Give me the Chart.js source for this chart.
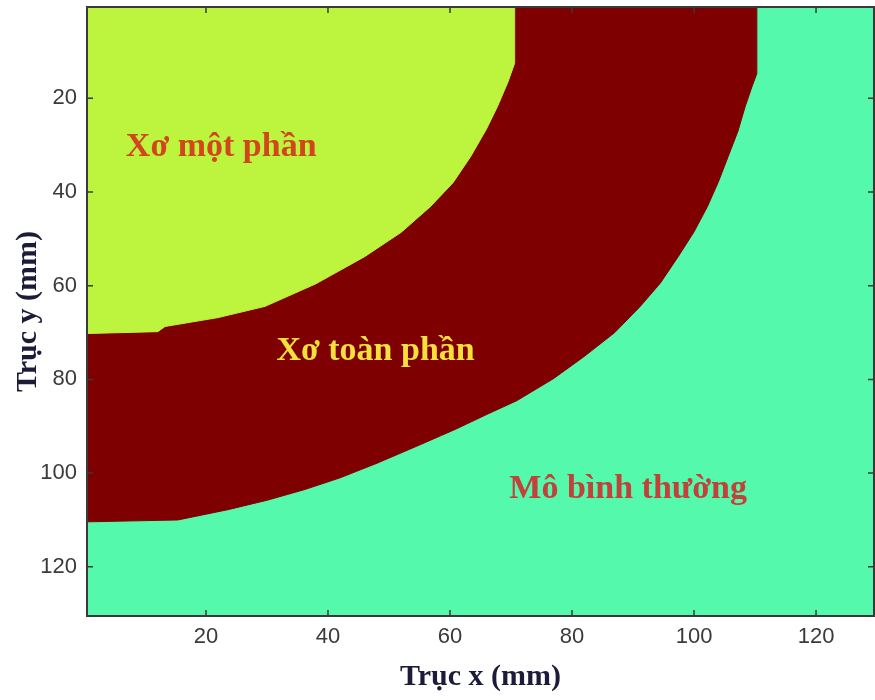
<!DOCTYPE html>
<html>
<head>
<meta charset="utf-8">
<script src="https://cdn.jsdelivr.net/npm/chart.js@4.4.0/dist/chart.umd.min.js"></script>
<style>
  html, body { margin: 0; padding: 0; background: #fff; }
</style>
</head>
<body>
<canvas id="chart" width="875" height="700"></canvas>
<script>
/* =========================================
   DATA (mm)
   ========================================= */
const xRange = [0.5, 129.5];
const yRange = [0.5, 130.5];
const xTicks = [20, 40, 60, 80, 100, 120];
const yTicks = [20, 40, 60, 80, 100, 120];

// edge between "Xơ một phần" and "Xơ toàn phần"
const innerX = [0.5, 12.1, 13.3, 22.0, 29.7, 38.0, 46.0, 52.0, 56.8, 60.5, 63.4, 66.0, 67.8, 69.5, 70.6, 70.6];
const innerY = [70.2, 69.8, 68.7, 66.8, 64.4, 59.6, 53.8, 48.6, 43.1, 38.0, 32.4, 26.5, 21.7, 16.5, 12.5, 0.5];

// edge between "Xơ toàn phần" and "Mô bình thường"
const outerX = [0.5, 15.4, 23.6, 30.0, 36.2, 42.0, 48.2, 55.0, 60.8, 66.0, 71.0, 77.0, 82.0, 87.0, 91.2,
                94.5, 97.4, 100.0, 102.2, 104.0, 105.6, 107.2, 108.4, 109.5, 110.3, 110.3];
const outerY = [110.4, 110.0, 107.8, 105.8, 103.5, 101.0, 97.8, 94.0, 90.7, 87.5, 84.5, 79.8, 75.1, 70.0, 64.4,
                59.4, 53.8, 48.5, 43.1, 37.8, 32.4, 27.0, 21.7, 17.5, 14.7, 0.5];

// region labels
const regionNames = ['Xơ một phần', 'Xơ toàn phần', 'Mô bình thường'];
const regionX = [22.5, 47.8, 89.2];
const regionY = [32.4, 75.8, 105.3];
const regionColors = ['#d2461c', '#f3e03c', '#c2413a'];

const colNormal = '#54f9ac';
const colFull = '#7f0000';
const colPartial = '#bdf43d';

function boundaryPoints(xs, ys) {
    return xs.map((x, i) => ({ x: x, y: ys[i] }));
}

/* =========================================
   PLUGINS
   ========================================= */
// cyan background = normal tissue
const backgroundPlugin = {
    id: 'background',
    beforeDatasetsDraw(chart) {
        const { ctx, chartArea: a } = chart;
        ctx.save();
        ctx.fillStyle = colNormal;
        ctx.fillRect(a.left, a.top, a.right - a.left, a.bottom - a.top);
        ctx.restore();
    }
};

// matlab-like box with inward ticks + region labels
const framePlugin = {
    id: 'frame',
    afterDatasetsDraw(chart) {
        const { ctx, chartArea: a, scales } = chart;
        const x = scales.x, y = scales.y;
        ctx.save();
        ctx.strokeStyle = '#3a3a3a';
        ctx.lineWidth = 1.5;
        ctx.beginPath();
        xTicks.forEach(v => {
            const px = x.getPixelForValue(v);
            ctx.moveTo(px, a.bottom); ctx.lineTo(px, a.bottom - 6);
            ctx.moveTo(px, a.top); ctx.lineTo(px, a.top + 6);
        });
        yTicks.forEach(v => {
            const py = y.getPixelForValue(v);
            ctx.moveTo(a.left, py); ctx.lineTo(a.left + 6, py);
            ctx.moveTo(a.right, py); ctx.lineTo(a.right - 6, py);
        });
        ctx.stroke();
        ctx.lineWidth = 2;
        ctx.strokeRect(a.left, a.top, a.right - a.left, a.bottom - a.top);

        ctx.font = 'bold 34px "Liberation Serif"';
        ctx.textAlign = 'center';
        ctx.textBaseline = 'alphabetic';
        regionNames.forEach((name, i) => {
            ctx.fillStyle = regionColors[i];
            ctx.fillText(name, x.getPixelForValue(regionX[i]), y.getPixelForValue(regionY[i]));
        });
        ctx.restore();
    }
};

/* =========================================
   CHART
   ========================================= */
const tickFont = { family: 'Liberation Sans', size: 22 };
const titleFont = { family: 'Liberation Serif', size: 30, weight: 'bold' };

new Chart(document.getElementById('chart'), {
    type: 'line',
    data: {
        datasets: [
            {
                label: 'Xơ một phần',
                data: boundaryPoints(innerX, innerY),
                order: 1,
                borderColor: colPartial,
                backgroundColor: colPartial,
                borderWidth: 1,
                pointRadius: 0,
                tension: 0,
                fill: { value: yRange[0] }
            },
            {
                label: 'Xơ toàn phần',
                data: boundaryPoints(outerX, outerY),
                order: 2,
                borderColor: colFull,
                backgroundColor: colFull,
                borderWidth: 1,
                pointRadius: 0,
                tension: 0,
                fill: { value: yRange[0] }
            }
        ]
    },
    options: {
        responsive: false,
        animation: false,
        layout: { padding: { top: 7, right: 1, left: 0, bottom: 0 } },
        plugins: {
            legend: { display: false },
            tooltip: { enabled: false }
        },
        scales: {
            x: {
                type: 'linear',
                min: xRange[0],
                max: xRange[1],
                afterBuildTicks: s => { s.ticks = xTicks.map(v => ({ value: v })); },
                afterFit: s => { s.height = 84; s.paddingLeft = 0; s.paddingRight = 0; },
                grid: { display: false, drawTicks: false },
                border: { display: false },
                ticks: { color: '#3a3a3a', font: tickFont, padding: 8, maxRotation: 0 },
                title: {
                    display: true,
                    text: 'Trục x (mm)',
                    color: '#1c1c3a',
                    font: titleFont,
                    padding: { top: 0, bottom: 5 }
                }
            },
            y: {
                type: 'linear',
                reverse: true,
                min: yRange[0],
                max: yRange[1],
                afterBuildTicks: s => { s.ticks = yTicks.map(v => ({ value: v })); },
                // labels sit away from the ends, so no extra end padding
                afterFit: s => { s.width = 87; s.paddingTop = 0; s.paddingBottom = 0; },
                grid: { display: false, drawTicks: false },
                border: { display: false },
                ticks: { color: '#3a3a3a', font: tickFont, padding: 10 },
                title: {
                    display: true,
                    text: 'Trục y (mm)',
                    color: '#1c1c3a',
                    font: titleFont,
                    padding: { top: 10, bottom: 0 }
                }
            }
        }
    },
    plugins: [backgroundPlugin, framePlugin]
});
</script>
</body>
</html>
